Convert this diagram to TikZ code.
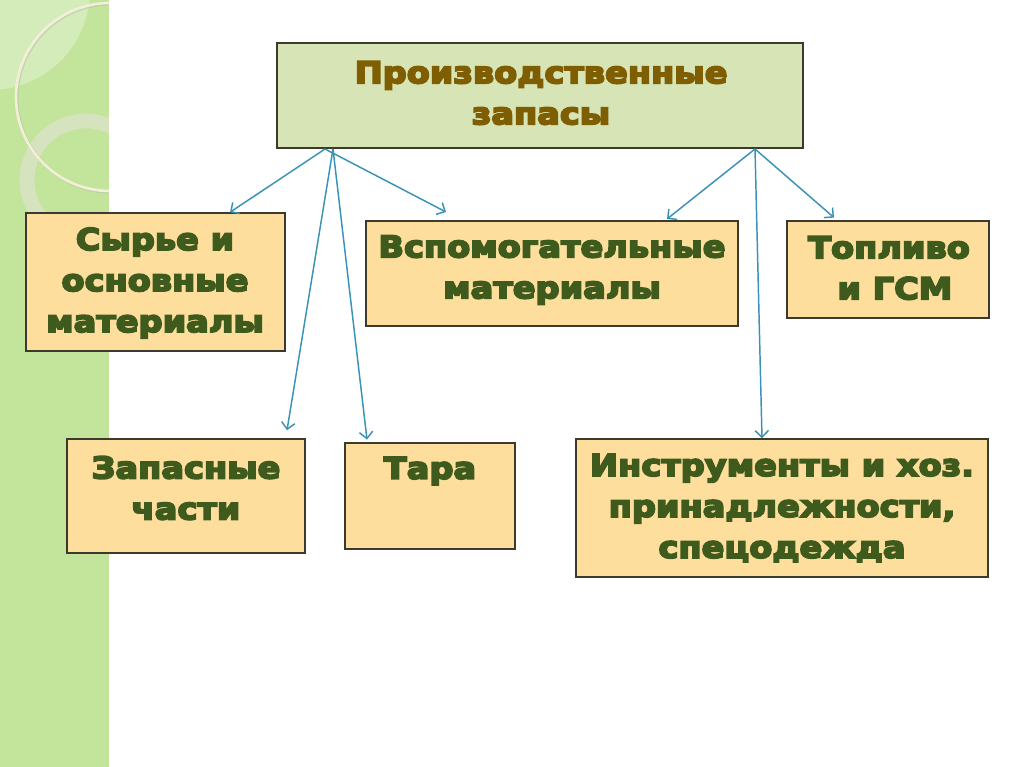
\documentclass[tikz,border=0pt]{standalone}
\usepackage{fontspec}
\setmainfont{DejaVu Sans}[FakeStretch=1.12, BoldFeatures={FakeBold=6}]
\usetikzlibrary{arrows.meta,fit}

\definecolor{stripgreen}{HTML}{C2E59B}
\definecolor{ringpale}{HTML}{DCE3C8}
\definecolor{cream}{HTML}{F3EFD6}
\definecolor{boxfill}{HTML}{FDDE9D}
\definecolor{topfill}{HTML}{D7E5B6}
\definecolor{boxline}{HTML}{3C3A2E}
\definecolor{arrblue}{HTML}{3A93B6}
\definecolor{txtgreen}{HTML}{3E5A1C}
\definecolor{txtbrown}{HTML}{7E5E00}

\tikzset{
  box/.style={draw=boxline, line width=1.1pt, fill=boxfill, inner sep=0pt},
  topbox/.style={box, fill=topfill},
  lbl/.style={font=\fontsize{22.5}{30.75}\selectfont\bfseries, align=center,
    text=txtgreen, inner sep=0pt},
  ttl/.style={lbl, text=txtbrown},
  arr/.style={->, draw=arrblue, line width=1.1pt},
}

\begin{document}
\begin{tikzpicture}[x=0.75pt, y=-0.75pt, >={Straight Barb[length=5pt, width=10pt]}]

  \useasboundingbox (0,0) rectangle (1024,767);
  \fill[white] (0,0) rectangle (1024,767);

  % --- green strip on the left ---
  \begin{scope}
    \clip (0,0) rectangle (109,767);
    \fill[stripgreen] (0,0) rectangle (109,767);
    \fill[white, opacity=0.3] (-10,-10) circle (100);
    \draw[ringpale, line width=11pt, opacity=0.8] (86,180) circle (59);
    \draw[black!30, line width=2.4pt, opacity=0.4] (111,98) circle (94);
    \draw[cream, line width=2pt] (110,97) circle (94);
  \end{scope}

  % --- boxes ---
  \node[topbox, fit={(277,43) (803,148)}] (zapasy) {};
  \node[box, fit={(26,213) (285,351)}] (syrye) {};
  \node[box, fit={(366,221) (738,326)}] (vspom) {};
  \node[box, fit={(787,221) (989,318)}] (toplivo) {};
  \node[box, fit={(67,439) (305,553)}] (chasti) {};
  \node[box, fit={(345,443) (515,549)}] (tara) {};
  \node[box, fit={(576,439) (988,577)}] (instr) {};

  % --- labels ---
  \node[ttl] (tZapasy) at (541,93) {Производственные\\запасы};
  \node[lbl] (tSyrye) at (155,283) {Сырье и\\основные\\материалы};
  \node[lbl] (tVspom) at (552,270) {Вспомогательные\\материалы};
  \node[lbl] (tToplivo) at (889,268) {Топливо\\\ и ГСМ};
  \node[lbl] (tChasti) at (186,488) {Запасные\\части};
  \node[lbl] (tTara) at (430,471) {Тара};
  \node[lbl] (tInstr) at (782,508) {Инструменты и хоз.\\принадлежности,\\спецодежда};

  % --- arrows ---
  \coordinate (fromA) at (325,149);
  \coordinate (fromB) at (333,149);
  \coordinate (fromC) at (755,149);
  \coordinate (toVspomL) at (446,212);
  \coordinate (toVspomR) at (667,219);

  \draw[arr] (fromA) -- (syrye.north -| 230,0);
  \draw[arr] (fromA) -- (toVspomL);
  \draw[arr] (fromB) -- ([yshift=6]chasti.north -| 287,0);
  \draw[arr] (fromB) -- ([yshift=2]tara.north -| 367,0);
  \draw[arr] (fromC) -- (toVspomR);
  \draw[arr] (fromC) -- ([yshift=2]toplivo.north -| 834,0);
  \draw[arr] (fromC) -- (instr.north -| 762,0);

\end{tikzpicture}
\end{document}
